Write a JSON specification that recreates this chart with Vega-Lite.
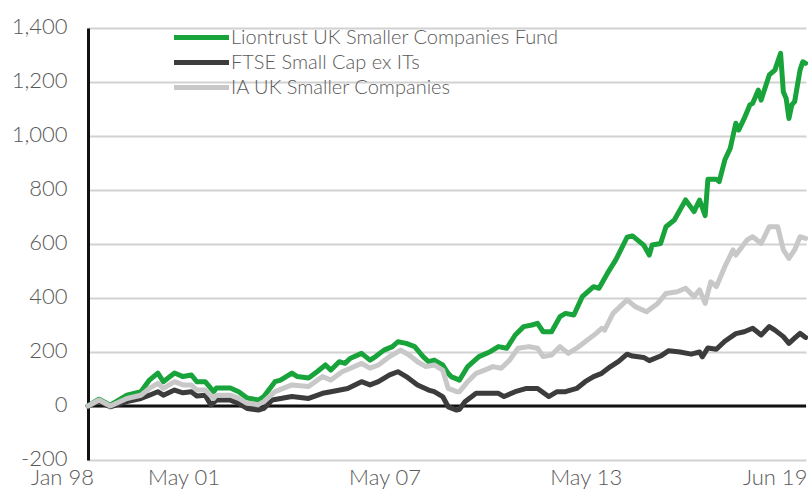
{
  "$schema": "https://vega.github.io/schema/vega-lite/v6.json",
  "width": 718,
  "height": 432,
  "autosize": {"type": "none"},
  "padding": {"left": 88, "top": 28, "right": 2, "bottom": 29},
  "background": "white",
  "config": {"view": {"stroke": null}, "font": "Lato"},
  "datasets": {
    "zero": [{"v": 0}],
    "series": [
      {"s": "Liontrust UK Smaller Companies Fund", "date": "1998-01-01", "v": 0},
      {"s": "Liontrust UK Smaller Companies Fund", "date": "1998-05-01", "v": 25},
      {"s": "Liontrust UK Smaller Companies Fund", "date": "1998-09-01", "v": 3},
      {"s": "Liontrust UK Smaller Companies Fund", "date": "1999-03-01", "v": 40},
      {"s": "Liontrust UK Smaller Companies Fund", "date": "1999-08-01", "v": 53},
      {"s": "Liontrust UK Smaller Companies Fund", "date": "1999-11-01", "v": 96},
      {"s": "Liontrust UK Smaller Companies Fund", "date": "2000-02-01", "v": 122},
      {"s": "Liontrust UK Smaller Companies Fund", "date": "2000-04-01", "v": 90},
      {"s": "Liontrust UK Smaller Companies Fund", "date": "2000-08-01", "v": 122},
      {"s": "Liontrust UK Smaller Companies Fund", "date": "2000-11-01", "v": 109},
      {"s": "Liontrust UK Smaller Companies Fund", "date": "2001-02-01", "v": 115},
      {"s": "Liontrust UK Smaller Companies Fund", "date": "2001-04-01", "v": 90},
      {"s": "Liontrust UK Smaller Companies Fund", "date": "2001-07-01", "v": 90},
      {"s": "Liontrust UK Smaller Companies Fund", "date": "2001-10-01", "v": 53},
      {"s": "Liontrust UK Smaller Companies Fund", "date": "2001-11-01", "v": 67},
      {"s": "Liontrust UK Smaller Companies Fund", "date": "2002-04-01", "v": 67},
      {"s": "Liontrust UK Smaller Companies Fund", "date": "2002-07-01", "v": 53},
      {"s": "Liontrust UK Smaller Companies Fund", "date": "2002-10-01", "v": 30},
      {"s": "Liontrust UK Smaller Companies Fund", "date": "2003-02-01", "v": 22},
      {"s": "Liontrust UK Smaller Companies Fund", "date": "2003-04-01", "v": 35},
      {"s": "Liontrust UK Smaller Companies Fund", "date": "2003-08-01", "v": 90},
      {"s": "Liontrust UK Smaller Companies Fund", "date": "2003-10-01", "v": 96},
      {"s": "Liontrust UK Smaller Companies Fund", "date": "2004-02-01", "v": 122},
      {"s": "Liontrust UK Smaller Companies Fund", "date": "2004-04-01", "v": 109},
      {"s": "Liontrust UK Smaller Companies Fund", "date": "2004-08-01", "v": 104},
      {"s": "Liontrust UK Smaller Companies Fund", "date": "2004-11-01", "v": 127},
      {"s": "Liontrust UK Smaller Companies Fund", "date": "2005-02-01", "v": 152},
      {"s": "Liontrust UK Smaller Companies Fund", "date": "2005-04-01", "v": 133},
      {"s": "Liontrust UK Smaller Companies Fund", "date": "2005-07-01", "v": 164},
      {"s": "Liontrust UK Smaller Companies Fund", "date": "2005-09-01", "v": 158},
      {"s": "Liontrust UK Smaller Companies Fund", "date": "2005-11-01", "v": 177},
      {"s": "Liontrust UK Smaller Companies Fund", "date": "2006-03-01", "v": 195},
      {"s": "Liontrust UK Smaller Companies Fund", "date": "2006-06-01", "v": 170},
      {"s": "Liontrust UK Smaller Companies Fund", "date": "2006-08-01", "v": 183},
      {"s": "Liontrust UK Smaller Companies Fund", "date": "2006-11-01", "v": 207},
      {"s": "Liontrust UK Smaller Companies Fund", "date": "2007-02-01", "v": 220},
      {"s": "Liontrust UK Smaller Companies Fund", "date": "2007-04-01", "v": 238},
      {"s": "Liontrust UK Smaller Companies Fund", "date": "2007-07-01", "v": 232},
      {"s": "Liontrust UK Smaller Companies Fund", "date": "2007-10-01", "v": 220},
      {"s": "Liontrust UK Smaller Companies Fund", "date": "2008-01-01", "v": 183},
      {"s": "Liontrust UK Smaller Companies Fund", "date": "2008-03-01", "v": 164},
      {"s": "Liontrust UK Smaller Companies Fund", "date": "2008-05-01", "v": 170},
      {"s": "Liontrust UK Smaller Companies Fund", "date": "2008-08-01", "v": 152},
      {"s": "Liontrust UK Smaller Companies Fund", "date": "2008-10-01", "v": 120},
      {"s": "Liontrust UK Smaller Companies Fund", "date": "2008-11-01", "v": 109},
      {"s": "Liontrust UK Smaller Companies Fund", "date": "2009-02-01", "v": 96},
      {"s": "Liontrust UK Smaller Companies Fund", "date": "2009-05-01", "v": 146},
      {"s": "Liontrust UK Smaller Companies Fund", "date": "2009-09-01", "v": 183},
      {"s": "Liontrust UK Smaller Companies Fund", "date": "2010-01-01", "v": 201},
      {"s": "Liontrust UK Smaller Companies Fund", "date": "2010-04-01", "v": 220},
      {"s": "Liontrust UK Smaller Companies Fund", "date": "2010-07-01", "v": 214},
      {"s": "Liontrust UK Smaller Companies Fund", "date": "2010-10-01", "v": 263},
      {"s": "Liontrust UK Smaller Companies Fund", "date": "2011-01-01", "v": 294},
      {"s": "Liontrust UK Smaller Companies Fund", "date": "2011-04-01", "v": 300},
      {"s": "Liontrust UK Smaller Companies Fund", "date": "2011-06-01", "v": 306},
      {"s": "Liontrust UK Smaller Companies Fund", "date": "2011-08-01", "v": 275},
      {"s": "Liontrust UK Smaller Companies Fund", "date": "2011-11-01", "v": 275},
      {"s": "Liontrust UK Smaller Companies Fund", "date": "2012-02-01", "v": 331},
      {"s": "Liontrust UK Smaller Companies Fund", "date": "2012-04-01", "v": 343},
      {"s": "Liontrust UK Smaller Companies Fund", "date": "2012-07-01", "v": 337},
      {"s": "Liontrust UK Smaller Companies Fund", "date": "2012-10-01", "v": 405},
      {"s": "Liontrust UK Smaller Companies Fund", "date": "2013-02-01", "v": 442},
      {"s": "Liontrust UK Smaller Companies Fund", "date": "2013-04-01", "v": 436},
      {"s": "Liontrust UK Smaller Companies Fund", "date": "2013-07-01", "v": 491},
      {"s": "Liontrust UK Smaller Companies Fund", "date": "2013-10-01", "v": 541},
      {"s": "Liontrust UK Smaller Companies Fund", "date": "2014-02-01", "v": 625},
      {"s": "Liontrust UK Smaller Companies Fund", "date": "2014-04-01", "v": 630},
      {"s": "Liontrust UK Smaller Companies Fund", "date": "2014-08-01", "v": 596},
      {"s": "Liontrust UK Smaller Companies Fund", "date": "2014-10-01", "v": 559},
      {"s": "Liontrust UK Smaller Companies Fund", "date": "2014-11-01", "v": 596},
      {"s": "Liontrust UK Smaller Companies Fund", "date": "2015-02-01", "v": 602},
      {"s": "Liontrust UK Smaller Companies Fund", "date": "2015-04-01", "v": 664},
      {"s": "Liontrust UK Smaller Companies Fund", "date": "2015-07-01", "v": 689},
      {"s": "Liontrust UK Smaller Companies Fund", "date": "2015-11-01", "v": 763},
      {"s": "Liontrust UK Smaller Companies Fund", "date": "2016-02-01", "v": 720},
      {"s": "Liontrust UK Smaller Companies Fund", "date": "2016-04-01", "v": 763},
      {"s": "Liontrust UK Smaller Companies Fund", "date": "2016-06-01", "v": 705},
      {"s": "Liontrust UK Smaller Companies Fund", "date": "2016-07-01", "v": 840},
      {"s": "Liontrust UK Smaller Companies Fund", "date": "2016-10-01", "v": 840},
      {"s": "Liontrust UK Smaller Companies Fund", "date": "2016-11-01", "v": 831},
      {"s": "Liontrust UK Smaller Companies Fund", "date": "2017-01-01", "v": 911},
      {"s": "Liontrust UK Smaller Companies Fund", "date": "2017-03-01", "v": 954},
      {"s": "Liontrust UK Smaller Companies Fund", "date": "2017-05-01", "v": 1047},
      {"s": "Liontrust UK Smaller Companies Fund", "date": "2017-06-01", "v": 1022},
      {"s": "Liontrust UK Smaller Companies Fund", "date": "2017-08-01", "v": 1065},
      {"s": "Liontrust UK Smaller Companies Fund", "date": "2017-10-01", "v": 1115},
      {"s": "Liontrust UK Smaller Companies Fund", "date": "2017-11-01", "v": 1121},
      {"s": "Liontrust UK Smaller Companies Fund", "date": "2018-01-01", "v": 1170},
      {"s": "Liontrust UK Smaller Companies Fund", "date": "2018-02-01", "v": 1133},
      {"s": "Liontrust UK Smaller Companies Fund", "date": "2018-05-01", "v": 1226},
      {"s": "Liontrust UK Smaller Companies Fund", "date": "2018-07-01", "v": 1244},
      {"s": "Liontrust UK Smaller Companies Fund", "date": "2018-09-01", "v": 1306},
      {"s": "Liontrust UK Smaller Companies Fund", "date": "2018-10-01", "v": 1164},
      {"s": "Liontrust UK Smaller Companies Fund", "date": "2018-11-01", "v": 1139},
      {"s": "Liontrust UK Smaller Companies Fund", "date": "2018-12-01", "v": 1065},
      {"s": "Liontrust UK Smaller Companies Fund", "date": "2019-01-01", "v": 1115},
      {"s": "Liontrust UK Smaller Companies Fund", "date": "2019-02-01", "v": 1127},
      {"s": "Liontrust UK Smaller Companies Fund", "date": "2019-04-01", "v": 1244},
      {"s": "Liontrust UK Smaller Companies Fund", "date": "2019-05-01", "v": 1275},
      {"s": "Liontrust UK Smaller Companies Fund", "date": "2019-06-01", "v": 1269},

      {"s": "FTSE Small Cap ex ITs", "date": "1998-01-01", "v": 0},
      {"s": "FTSE Small Cap ex ITs", "date": "1998-05-01", "v": 16},
      {"s": "FTSE Small Cap ex ITs", "date": "1998-09-01", "v": -3},
      {"s": "FTSE Small Cap ex ITs", "date": "1999-03-01", "v": 16},
      {"s": "FTSE Small Cap ex ITs", "date": "1999-08-01", "v": 28},
      {"s": "FTSE Small Cap ex ITs", "date": "1999-11-01", "v": 40},
      {"s": "FTSE Small Cap ex ITs", "date": "2000-02-01", "v": 53},
      {"s": "FTSE Small Cap ex ITs", "date": "2000-04-01", "v": 40},
      {"s": "FTSE Small Cap ex ITs", "date": "2000-08-01", "v": 59},
      {"s": "FTSE Small Cap ex ITs", "date": "2000-11-01", "v": 49},
      {"s": "FTSE Small Cap ex ITs", "date": "2001-02-01", "v": 53},
      {"s": "FTSE Small Cap ex ITs", "date": "2001-04-01", "v": 37},
      {"s": "FTSE Small Cap ex ITs", "date": "2001-07-01", "v": 40},
      {"s": "FTSE Small Cap ex ITs", "date": "2001-09-01", "v": 4},
      {"s": "FTSE Small Cap ex ITs", "date": "2001-11-01", "v": 22},
      {"s": "FTSE Small Cap ex ITs", "date": "2002-04-01", "v": 22},
      {"s": "FTSE Small Cap ex ITs", "date": "2002-07-01", "v": 10},
      {"s": "FTSE Small Cap ex ITs", "date": "2002-10-01", "v": -9},
      {"s": "FTSE Small Cap ex ITs", "date": "2003-02-01", "v": -15},
      {"s": "FTSE Small Cap ex ITs", "date": "2003-04-01", "v": -9},
      {"s": "FTSE Small Cap ex ITs", "date": "2003-07-01", "v": 22},
      {"s": "FTSE Small Cap ex ITs", "date": "2004-02-01", "v": 35},
      {"s": "FTSE Small Cap ex ITs", "date": "2004-08-01", "v": 28},
      {"s": "FTSE Small Cap ex ITs", "date": "2005-01-01", "v": 47},
      {"s": "FTSE Small Cap ex ITs", "date": "2005-04-01", "v": 53},
      {"s": "FTSE Small Cap ex ITs", "date": "2005-10-01", "v": 65},
      {"s": "FTSE Small Cap ex ITs", "date": "2006-03-01", "v": 90},
      {"s": "FTSE Small Cap ex ITs", "date": "2006-06-01", "v": 78},
      {"s": "FTSE Small Cap ex ITs", "date": "2006-09-01", "v": 90},
      {"s": "FTSE Small Cap ex ITs", "date": "2007-01-01", "v": 115},
      {"s": "FTSE Small Cap ex ITs", "date": "2007-04-01", "v": 127},
      {"s": "FTSE Small Cap ex ITs", "date": "2007-07-01", "v": 109},
      {"s": "FTSE Small Cap ex ITs", "date": "2007-11-01", "v": 78},
      {"s": "FTSE Small Cap ex ITs", "date": "2008-03-01", "v": 59},
      {"s": "FTSE Small Cap ex ITs", "date": "2008-05-01", "v": 53},
      {"s": "FTSE Small Cap ex ITs", "date": "2008-08-01", "v": 35},
      {"s": "FTSE Small Cap ex ITs", "date": "2008-10-01", "v": -3},
      {"s": "FTSE Small Cap ex ITs", "date": "2009-01-01", "v": -15},
      {"s": "FTSE Small Cap ex ITs", "date": "2009-02-01", "v": -12},
      {"s": "FTSE Small Cap ex ITs", "date": "2009-04-01", "v": 16},
      {"s": "FTSE Small Cap ex ITs", "date": "2009-08-01", "v": 47},
      {"s": "FTSE Small Cap ex ITs", "date": "2009-12-01", "v": 47},
      {"s": "FTSE Small Cap ex ITs", "date": "2010-04-01", "v": 47},
      {"s": "FTSE Small Cap ex ITs", "date": "2010-06-01", "v": 35},
      {"s": "FTSE Small Cap ex ITs", "date": "2010-10-01", "v": 53},
      {"s": "FTSE Small Cap ex ITs", "date": "2011-02-01", "v": 65},
      {"s": "FTSE Small Cap ex ITs", "date": "2011-06-01", "v": 65},
      {"s": "FTSE Small Cap ex ITs", "date": "2011-10-01", "v": 35},
      {"s": "FTSE Small Cap ex ITs", "date": "2012-01-01", "v": 53},
      {"s": "FTSE Small Cap ex ITs", "date": "2012-04-01", "v": 53},
      {"s": "FTSE Small Cap ex ITs", "date": "2012-08-01", "v": 65},
      {"s": "FTSE Small Cap ex ITs", "date": "2012-11-01", "v": 90},
      {"s": "FTSE Small Cap ex ITs", "date": "2013-02-01", "v": 109},
      {"s": "FTSE Small Cap ex ITs", "date": "2013-05-01", "v": 121},
      {"s": "FTSE Small Cap ex ITs", "date": "2013-08-01", "v": 145},
      {"s": "FTSE Small Cap ex ITs", "date": "2013-11-01", "v": 165},
      {"s": "FTSE Small Cap ex ITs", "date": "2014-02-01", "v": 192},
      {"s": "FTSE Small Cap ex ITs", "date": "2014-04-01", "v": 185},
      {"s": "FTSE Small Cap ex ITs", "date": "2014-08-01", "v": 180},
      {"s": "FTSE Small Cap ex ITs", "date": "2014-10-01", "v": 168},
      {"s": "FTSE Small Cap ex ITs", "date": "2015-02-01", "v": 185},
      {"s": "FTSE Small Cap ex ITs", "date": "2015-05-01", "v": 205},
      {"s": "FTSE Small Cap ex ITs", "date": "2015-09-01", "v": 200},
      {"s": "FTSE Small Cap ex ITs", "date": "2016-01-01", "v": 192},
      {"s": "FTSE Small Cap ex ITs", "date": "2016-04-01", "v": 200},
      {"s": "FTSE Small Cap ex ITs", "date": "2016-05-01", "v": 182},
      {"s": "FTSE Small Cap ex ITs", "date": "2016-07-01", "v": 215},
      {"s": "FTSE Small Cap ex ITs", "date": "2016-10-01", "v": 210},
      {"s": "FTSE Small Cap ex ITs", "date": "2017-01-01", "v": 240},
      {"s": "FTSE Small Cap ex ITs", "date": "2017-05-01", "v": 268},
      {"s": "FTSE Small Cap ex ITs", "date": "2017-08-01", "v": 275},
      {"s": "FTSE Small Cap ex ITs", "date": "2017-11-01", "v": 288},
      {"s": "FTSE Small Cap ex ITs", "date": "2018-02-01", "v": 263},
      {"s": "FTSE Small Cap ex ITs", "date": "2018-05-01", "v": 294},
      {"s": "FTSE Small Cap ex ITs", "date": "2018-07-01", "v": 281},
      {"s": "FTSE Small Cap ex ITs", "date": "2018-10-01", "v": 257},
      {"s": "FTSE Small Cap ex ITs", "date": "2018-12-01", "v": 232},
      {"s": "FTSE Small Cap ex ITs", "date": "2019-02-01", "v": 251},
      {"s": "FTSE Small Cap ex ITs", "date": "2019-04-01", "v": 269},
      {"s": "FTSE Small Cap ex ITs", "date": "2019-06-01", "v": 254},

      {"s": "IA UK Smaller Companies", "date": "1998-01-01", "v": 0},
      {"s": "IA UK Smaller Companies", "date": "1998-05-01", "v": 22},
      {"s": "IA UK Smaller Companies", "date": "1998-09-01", "v": 0},
      {"s": "IA UK Smaller Companies", "date": "1999-03-01", "v": 28},
      {"s": "IA UK Smaller Companies", "date": "1999-08-01", "v": 40},
      {"s": "IA UK Smaller Companies", "date": "1999-11-01", "v": 65},
      {"s": "IA UK Smaller Companies", "date": "2000-02-01", "v": 84},
      {"s": "IA UK Smaller Companies", "date": "2000-04-01", "v": 65},
      {"s": "IA UK Smaller Companies", "date": "2000-08-01", "v": 90},
      {"s": "IA UK Smaller Companies", "date": "2000-11-01", "v": 78},
      {"s": "IA UK Smaller Companies", "date": "2001-02-01", "v": 78},
      {"s": "IA UK Smaller Companies", "date": "2001-04-01", "v": 59},
      {"s": "IA UK Smaller Companies", "date": "2001-07-01", "v": 59},
      {"s": "IA UK Smaller Companies", "date": "2001-10-01", "v": 28},
      {"s": "IA UK Smaller Companies", "date": "2001-11-01", "v": 40},
      {"s": "IA UK Smaller Companies", "date": "2002-04-01", "v": 40},
      {"s": "IA UK Smaller Companies", "date": "2002-07-01", "v": 28},
      {"s": "IA UK Smaller Companies", "date": "2002-10-01", "v": 10},
      {"s": "IA UK Smaller Companies", "date": "2003-02-01", "v": 5},
      {"s": "IA UK Smaller Companies", "date": "2003-04-01", "v": 16},
      {"s": "IA UK Smaller Companies", "date": "2003-08-01", "v": 53},
      {"s": "IA UK Smaller Companies", "date": "2004-02-01", "v": 78},
      {"s": "IA UK Smaller Companies", "date": "2004-08-01", "v": 72},
      {"s": "IA UK Smaller Companies", "date": "2005-01-01", "v": 109},
      {"s": "IA UK Smaller Companies", "date": "2005-04-01", "v": 96},
      {"s": "IA UK Smaller Companies", "date": "2005-08-01", "v": 127},
      {"s": "IA UK Smaller Companies", "date": "2005-11-01", "v": 140},
      {"s": "IA UK Smaller Companies", "date": "2006-03-01", "v": 158},
      {"s": "IA UK Smaller Companies", "date": "2006-06-01", "v": 140},
      {"s": "IA UK Smaller Companies", "date": "2006-09-01", "v": 152},
      {"s": "IA UK Smaller Companies", "date": "2007-01-01", "v": 183},
      {"s": "IA UK Smaller Companies", "date": "2007-05-01", "v": 207},
      {"s": "IA UK Smaller Companies", "date": "2007-08-01", "v": 189},
      {"s": "IA UK Smaller Companies", "date": "2007-11-01", "v": 164},
      {"s": "IA UK Smaller Companies", "date": "2008-02-01", "v": 146},
      {"s": "IA UK Smaller Companies", "date": "2008-05-01", "v": 152},
      {"s": "IA UK Smaller Companies", "date": "2008-08-01", "v": 133},
      {"s": "IA UK Smaller Companies", "date": "2008-10-01", "v": 65},
      {"s": "IA UK Smaller Companies", "date": "2009-01-01", "v": 53},
      {"s": "IA UK Smaller Companies", "date": "2009-02-01", "v": 53},
      {"s": "IA UK Smaller Companies", "date": "2009-05-01", "v": 90},
      {"s": "IA UK Smaller Companies", "date": "2009-08-01", "v": 121},
      {"s": "IA UK Smaller Companies", "date": "2009-11-01", "v": 133},
      {"s": "IA UK Smaller Companies", "date": "2010-02-01", "v": 146},
      {"s": "IA UK Smaller Companies", "date": "2010-05-01", "v": 140},
      {"s": "IA UK Smaller Companies", "date": "2010-08-01", "v": 170},
      {"s": "IA UK Smaller Companies", "date": "2010-11-01", "v": 214},
      {"s": "IA UK Smaller Companies", "date": "2011-03-01", "v": 220},
      {"s": "IA UK Smaller Companies", "date": "2011-06-01", "v": 214},
      {"s": "IA UK Smaller Companies", "date": "2011-08-01", "v": 183},
      {"s": "IA UK Smaller Companies", "date": "2011-11-01", "v": 189},
      {"s": "IA UK Smaller Companies", "date": "2012-02-01", "v": 220},
      {"s": "IA UK Smaller Companies", "date": "2012-05-01", "v": 195},
      {"s": "IA UK Smaller Companies", "date": "2012-08-01", "v": 214},
      {"s": "IA UK Smaller Companies", "date": "2012-11-01", "v": 238},
      {"s": "IA UK Smaller Companies", "date": "2013-03-01", "v": 269},
      {"s": "IA UK Smaller Companies", "date": "2013-05-01", "v": 288},
      {"s": "IA UK Smaller Companies", "date": "2013-06-01", "v": 281},
      {"s": "IA UK Smaller Companies", "date": "2013-09-01", "v": 343},
      {"s": "IA UK Smaller Companies", "date": "2014-02-01", "v": 393},
      {"s": "IA UK Smaller Companies", "date": "2014-05-01", "v": 368},
      {"s": "IA UK Smaller Companies", "date": "2014-09-01", "v": 349},
      {"s": "IA UK Smaller Companies", "date": "2015-01-01", "v": 380},
      {"s": "IA UK Smaller Companies", "date": "2015-04-01", "v": 417},
      {"s": "IA UK Smaller Companies", "date": "2015-08-01", "v": 423},
      {"s": "IA UK Smaller Companies", "date": "2015-11-01", "v": 436},
      {"s": "IA UK Smaller Companies", "date": "2016-02-01", "v": 405},
      {"s": "IA UK Smaller Companies", "date": "2016-04-01", "v": 430},
      {"s": "IA UK Smaller Companies", "date": "2016-06-01", "v": 380},
      {"s": "IA UK Smaller Companies", "date": "2016-08-01", "v": 460},
      {"s": "IA UK Smaller Companies", "date": "2016-10-01", "v": 442},
      {"s": "IA UK Smaller Companies", "date": "2017-01-01", "v": 516},
      {"s": "IA UK Smaller Companies", "date": "2017-04-01", "v": 578},
      {"s": "IA UK Smaller Companies", "date": "2017-05-01", "v": 559},
      {"s": "IA UK Smaller Companies", "date": "2017-09-01", "v": 615},
      {"s": "IA UK Smaller Companies", "date": "2017-11-01", "v": 627},
      {"s": "IA UK Smaller Companies", "date": "2018-02-01", "v": 602},
      {"s": "IA UK Smaller Companies", "date": "2018-05-01", "v": 664},
      {"s": "IA UK Smaller Companies", "date": "2018-08-01", "v": 664},
      {"s": "IA UK Smaller Companies", "date": "2018-10-01", "v": 578},
      {"s": "IA UK Smaller Companies", "date": "2018-12-01", "v": 547},
      {"s": "IA UK Smaller Companies", "date": "2019-02-01", "v": 578},
      {"s": "IA UK Smaller Companies", "date": "2019-04-01", "v": 627},
      {"s": "IA UK Smaller Companies", "date": "2019-06-01", "v": 621}
    ]
  },
  "encoding": {
    "y": {
      "field": "v",
      "type": "quantitative",
      "scale": {"domain": [-200, 1400], "nice": false, "zero": false},
      "axis": {
        "title": null,
        "values": [-200, 0, 200, 400, 600, 800, 1000, 1200, 1400],
        "labelExpr": "datum.value < 0 ? '-' + format(-datum.value, ',d') : format(datum.value, ',d')",
        "labelFontSize": 22,
        "labelFontWeight": 300,
        "labelColor": "#595959",
        "labelPadding": 21,
        "labelOffset": -2,
        "ticks": false,
        "domainColor": "#111111",
        "domainWidth": 3,
        "gridColor": "#d2d2d2",
        "gridWidth": 2
      }
    }
  },
  "layer": [
    {
      "data": {"name": "zero"},
      "mark": {"type": "rule", "color": "#111111", "strokeWidth": 3}
    },
    {
      "data": {"name": "series"},
      "mark": {"type": "line", "strokeWidth": 5, "strokeJoin": "round", "strokeCap": "round"},
      "encoding": {
        "x": {
          "field": "date",
          "type": "temporal",
          "scale": {"type": "utc", "domain": [{"year": 1998, "month": 1, "date": 1, "utc": true}, {"year": 2019, "month": 6, "date": 5, "utc": true}]},
          "axis": {
            "title": null,
            "values": [
              {"year": 1998, "month": 1, "date": 1, "utc": true},
              {"year": 2001, "month": 5, "date": 1, "utc": true},
              {"year": 2007, "month": 5, "date": 1, "utc": true},
              {"year": 2013, "month": 5, "date": 1, "utc": true},
              {"year": 2019, "month": 6, "date": 1, "utc": true}
            ],
            "labelExpr": "utcFormat(datum.value, '%b %y')",
            "labelFontSize": 22,
            "labelFontWeight": 300,
            "labelColor": "#595959",
            "labelOffset": {"condition": [
              {"test": "utcyear(datum.value) == 1998", "value": -26},
              {"test": "utcyear(datum.value) == 2019", "value": -31}
            ], "value": -16},
            "labelFlush": false,
            "labelBound": false,
            "labelOverlap": false,
            "labelPadding": 7,
            "ticks": false,
            "domain": false,
            "grid": false
          }
        },
        "color": {
          "field": "s",
          "type": "nominal",
          "sort": null,
          "scale": {
            "domain": ["Liontrust UK Smaller Companies Fund", "FTSE Small Cap ex ITs", "IA UK Smaller Companies"],
            "range": ["#19a33b", "#3c3c3c", "#c8c8c8"]
          },
          "legend": {
            "orient": "none",
            "legendX": 101,
            "legendY": -3,
            "title": null,
            "symbolType": "M-2.75,0H2.75",
            "symbolStrokeWidth": 5,
            "symbolSize": 400,
            "labelFontSize": 20,
            "labelFontWeight": 300,
            "labelColor": "#595959",
            "labelOffset": 17,
            "labelLimit": 0,
            "rowPadding": 2
          }
        }
      }
    }
  ]
}
